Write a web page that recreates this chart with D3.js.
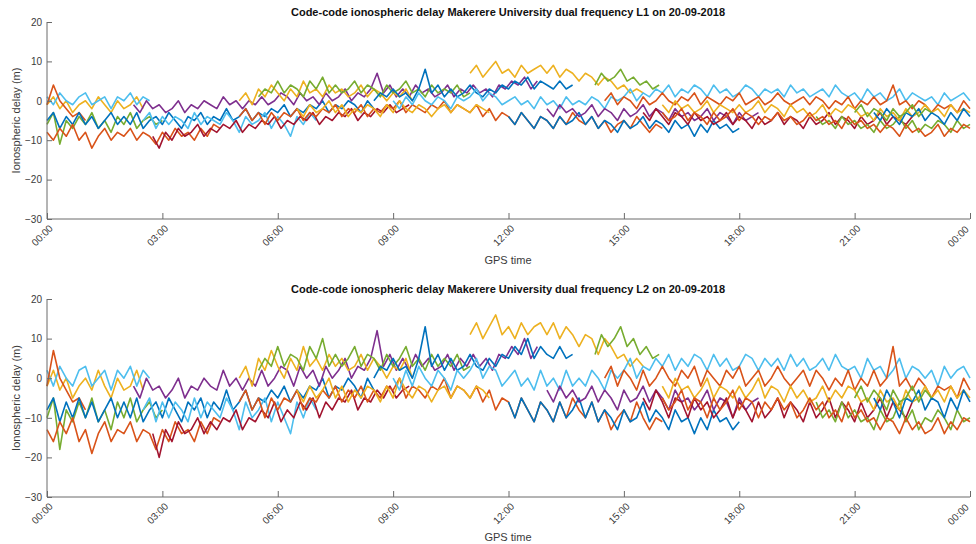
<!DOCTYPE html>
<html><head><meta charset="utf-8">
<script src="https://cdn.jsdelivr.net/npm/d3@7/dist/d3.min.js"></script>
<style>body{margin:0;background:#fff}svg{display:block}text{font-family:"Liberation Sans",Arial,Helvetica,sans-serif}</style>
</head><body><svg id="c" width="976" height="544"></svg>
<script>
// ---- data (hours, metres), 10-minute samples ----
const stepHours = 1/6;
const palette = ["#0072BD","#D95319","#EDB120","#7E2F8E","#77AC30","#4DBEEE","#A2142F"];
const xTickLabels = ["00:00","03:00","06:00","09:00","12:00","15:00","18:00","21:00","00:00"];
const yTicks = [-30,-20,-10,0,10,20];
const titles = ["Code-code ionospheric delay Makerere University dual frequency L1 on 20-09-2018",
                "Code-code ionospheric delay Makerere University dual frequency L2 on 20-09-2018"];
// start hour and colour index of each satellite track
const trackStart = [0,0,0,0,0,2.5,0,2.75,2.25,5,5.5,5,6.5,8.5,12,11,9,14.25,14.5,13,15.5,20,16,21.5,16,21];
const trackColor = [2,5,1,4,0,5,1,6,3,2,4,1,2,0,0,2,5,4,1,3,6,4,2,0,1,4];
// L1 ionospheric delay per track
const l1_01 = [-1,1,-2,0,-3,-1,0,-2,1,-1,-3,0,-2,-1,1,-2];
const l1_02 = [1,-1,2,0,-1,1,2,-1,0,1,-2,1,0,2,-1,1,0];
const l1_03 = [-1,4,0,-2,-4,-3,-5];
const l1_04 = [-6,-3,-11,-5,-7,-4,-6,-3,-7,-5,-8,-4,-6,-3,-7,-5,-4,-6,-5];
const l1_05 = [-5,-3,-7,-4,-6,-3,-6,-4,-7,-5,-3,-6,-4,-6,-3,-7,-5,-4,-6,-3,-5,-7,-4,-5,-3,-6,-4,-5,-2,-5,-4,-2,-5,-3,-4,-2,-3,-1,-4,-2,-3,-1,-2,0,-3,-1,-2,0,-1,-3,0,-2];
const l1_06 = [-5,-3,-7,-4,-6,-4,-5,-7,-3,-6,-4,-5,-6,-3,-5,-8,-4,-6,-5,-3,-7,-4,-6,-9,-4,-6,-3,-5];
const l1_07 = [-8,-10,-7,-9,-6,-10,-8,-12,-9,-7,-10,-8,-9,-7,-10,-8,-9,-11,-8,-10,-7,-9,-8,-10,-7,-9,-6,-7];
const l1_08 = [-9,-12,-8,-10,-7,-9,-8,-6,-9,-7,-8,-6,-7,-5,-8,-6,-7,-5,-6,-4,-7,-5,-6,-4,-5,-3,-6,-4,-5,-3,-4,-2,-5,-3,-4,-2,-3,-1,-3,-2,-1];
const l1_09 = [-1,-3,0,-2,-1,-3,-2,0,-3,-1,-2,0,-1,-2,1,-1,0,-2,0,-1,1,-1,0,2,1,-1,2,0,1,-1,2,0,1,3,0,2,1,3,7,2,4,1,3,1,4,2,3,1,2,4,1,3,2,4,2,3,1,4,3,5,4,6,3,5];
const l1_10 = [0,2,-1,3,1,4,2,0,3,1,5,2,3,1,4,2,3,1,2,4,1,3,2,0,2,1,3,0];
const l1_11 = [1,3,2,5,2,4,3,1,5,3,6,2,4,2,3,5,2,4,3,1,4,2,3,5,2,3,1,4,2,3,2,4,1,2];
const l1_12 = [-4,-2,-5,-3,-6,-3,-5,-3,-4,-2,-5,-3,-4,-2,-3,-1,-4,-2,-3,-1,-4,-2,-3,-1,-2,0,-3,-1,-2,-3,-1,-2,0,-3,-1,-2,-3,-1,-4,-2,-5,-3,-4,-6,-3,-5,-7,-4,-5,-7,-4,-6,-3,-5,-6,-4,-7,-5,-8,-6,-5,-7,-4,-6,-8,-6,-7];
const l1_13 = [-2,-4,-1,-3,-2,0,-3,-1,-4,-2,-3,-1,-2,-4,-1,-3,0,-2,-3,-1,-2,-4,-2,-1,-3,-1,-2,-3,-1,-2,-3];
const l1_14 = [0,2,1,3,1,2,0,3,8,2,4,1,3,1,2,4,2,1,3,2,4,3,5,4,6,3,5,4,3,5,3,4];
const l1_15 = [-4,-6,-3,-5,-7,-4,-5,-7,-4,-6,-5,-3,-6,-4,-7,-5,-6,-8,-5,-7,-6,-4,-7,-5,-6,-8,-5,-7,-6,-9,-6,-8,-5,-7,-6,-8,-7];
const l1_16 = [7,9,6,8,10,7,8,6,9,7,8,9,7,9,6,8,7,5,7,6,4,6,5,3,4,2,3,2];
const l1_17 = [0,-2,1,-1,2,0,-1,1,0,-2,1,0,1,3,0,2,1,-1,0,1,-1,0,-2,1,-1,0,-2,1,-1,0,-1,1,0,-2,1,0,1,3,0,2,1,3,2,4,1,3,2,4,3,1,4,2,3,1,2,4,3,1,3,2,3,1,4,2,3,1,2,3,1,4,2,1,2,0,3,1,2,0,1,3,0,2,1,0,1,-1,2,0,1,2,0];
const l1_18 = [4,7,5,6,8,5,6,4,5,3,4];
const l1_19 = [0,2,-1,1,0,-2,1,-1,0,2,0,-1,1,0,2,-1,1,0,-1,1,0,2,-1,0,1,-1,0,2,0,-1,0,1,-1,1,0,-2,0,-1,1,-2,0,-1,1,-1,0,4,-1,0,-2,0,-1,-3,-1,-2,-1,-3,0,-2];
const l1_20 = [-2,-4,-1,-3,-2,-4,-3,-1,-4,-2,-3,-5,-2,-4,-3,-1,-4,-2,-3,-5,-2,-4,-3,-5,-4,-2,-5,-3,-4,-6,-3,-5,-4,-3];
const l1_21 = [-3,-5,-2,-4,-6,-3,-4,-6,-3,-5,-4,-6,-5,-3,-6,-4,-5,-7,-4,-6,-5,-3,-6,-4,-5,-7,-4,-6,-5,-3,-6,-4,-5,-7,-4,-6,-5,-3,-6,-4,-5,-6,-4];
const l1_22 = [-4,-6,-5,-7,-4,-6,-5,-7,-6,-8,-5,-7,-6,-4,-7,-5,-8,-6,-7,-5,-6,-8,-5,-7,-6];
const l1_23 = [-1,-3,0,-2,-1,-3,-2,0,-3,-1,-2,-3,-1,-3,-2,0,-3,-1,-2,-4,-1,-3,-2,-4,-3,-1,-4,-2,-3,-1,-2,-4,-3,-5,-2,-4,-3,-5,-2,-4,-3,-1,-3,-2,-4,-1,-3,-2,-3];
const l1_24 = [-3,-5,-2,-4,-6,-3,-4,-2,-5,-3,-4,-6,-3,-5,-2,-4];
const l1_25 = [-3,-5,-4,-2,-5,-3,-4,-6,-3,-5,-4,-2,-5,-3,-4,-6,-4,-5,-3,-5,-4,-6,-5,-3,-5,-4,-6,-5,-7,-4,-6,-5,-7,-6,-8,-6,-7,-9,-6,-8,-7,-9,-8,-6,-9,-7,-8,-6,-7];
const l1_26 = [-3,-1,-4,-2,-3,-5,-2,-4,-3,-1,-4,-2,-3];
// L2 ionospheric delay per track
const l2_01 = [-2,2,-3,0,-5,-2,0,-3,2,-2,-5,0,-3,-2,2,-3];
const l2_02 = [2,-2,3,0,-2,2,3,-2,0,2,-3,2,0,3,-2,2,0];
const l2_03 = [-2,7,0,-3,-6,-5,-8];
const l2_04 = [-10,-5,-18,-8,-11,-6,-10,-5,-11,-8,-13,-6,-10,-5,-11,-8,-6,-10,-8];
const l2_05 = [-8,-5,-11,-6,-10,-5,-10,-6,-11,-8,-5,-10,-6,-10,-5,-11,-8,-6,-10,-5,-8,-11,-6,-8,-5,-10,-6,-8,-3,-8,-6,-3,-8,-5,-6,-3,-5,-2,-6,-3,-5,-2,-3,0,-5,-2,-3,0,-2,-5,0,-3];
const l2_06 = [-8,-5,-11,-6,-10,-6,-8,-11,-5,-10,-6,-8,-10,-5,-8,-13,-6,-10,-8,-5,-11,-6,-10,-14,-6,-10,-5,-8];
const l2_07 = [-13,-16,-11,-14,-10,-16,-13,-19,-14,-11,-16,-13,-14,-11,-16,-13,-14,-18,-13,-16,-11,-14,-13,-16,-11,-14,-10,-11];
const l2_08 = [-14,-20,-13,-16,-11,-14,-13,-10,-14,-11,-13,-10,-11,-8,-13,-10,-11,-8,-10,-6,-11,-8,-10,-6,-8,-5,-10,-6,-8,-5,-6,-3,-8,-5,-6,-3,-5,-2,-5,-3,-2];
const l2_09 = [-2,-5,0,-3,-2,-5,-3,0,-5,-2,-3,0,-2,-3,2,-2,0,-3,0,-2,2,-2,0,3,2,-2,3,0,2,-2,3,0,2,5,0,3,2,5,12,3,6,2,5,2,6,3,5,2,3,6,2,5,3,6,3,5,2,6,5,8,6,10,5,8];
const l2_10 = [0,3,-2,5,2,7,3,0,5,2,8,3,5,2,6,3,5,2,3,6,2,5,3,0,3,2,5,0];
const l2_11 = [2,5,3,8,3,6,5,2,8,5,10,3,6,3,5,8,3,6,5,2,6,3,5,8,3,5,2,6,3,5,3,6,2,3];
const l2_12 = [-6,-3,-8,-5,-10,-5,-8,-5,-6,-3,-8,-5,-6,-3,-5,-2,-6,-3,-5,-2,-6,-3,-5,-2,-3,0,-5,-2,-3,-5,-2,-3,0,-5,-2,-3,-5,-2,-6,-3,-8,-5,-6,-10,-5,-8,-11,-6,-8,-11,-6,-10,-5,-8,-10,-6,-11,-8,-13,-10,-8,-11,-6,-10,-13,-10,-11];
const l2_13 = [-3,-6,-2,-5,-3,0,-5,-2,-6,-3,-5,-2,-3,-6,-2,-5,0,-3,-5,-2,-3,-6,-3,-2,-5,-2,-3,-5,-2,-3,-5];
const l2_14 = [0,3,2,5,2,3,0,5,13,3,6,2,5,2,3,6,3,2,5,3,6,5,8,6,10,5,8,6,5,8,5,6];
const l2_15 = [-6,-10,-5,-8,-11,-6,-8,-11,-6,-10,-8,-5,-10,-6,-11,-8,-10,-13,-8,-11,-10,-6,-11,-8,-10,-13,-8,-11,-10,-14,-10,-13,-8,-11,-10,-13,-11];
const l2_16 = [11,14,10,13,16,11,13,10,14,11,13,14,11,14,10,13,11,8,11,10,6,10,8,5,6,3,5,3];
const l2_17 = [0,-3,2,-2,3,0,-2,2,0,-3,2,0,2,5,0,3,2,-2,0,2,-2,0,-3,2,-2,0,-3,2,-2,0,-2,2,0,-3,2,0,2,5,0,3,2,5,3,6,2,5,3,6,5,2,6,3,5,2,3,6,5,2,5,3,5,2,6,3,5,2,3,5,2,6,3,2,3,0,5,2,3,0,2,5,0,3,2,0,2,-2,3,0,2,3,0];
const l2_18 = [6,11,8,10,13,8,10,6,8,5,6];
const l2_19 = [0,3,-2,2,0,-3,2,-2,0,3,0,-2,2,0,3,-2,2,0,-2,2,0,3,-2,0,2,-2,0,3,0,-2,0,2,-2,2,0,-3,0,-2,2,-3,0,-2,2,-2,0,8,-2,0,-3,0,-2,-5,-2,-3,-2,-5,0,-3];
const l2_20 = [-3,-6,-2,-5,-3,-6,-5,-2,-6,-3,-5,-8,-3,-6,-5,-2,-6,-3,-5,-8,-3,-6,-5,-8,-6,-3,-8,-5,-6,-10,-5,-8,-6,-5];
const l2_21 = [-5,-8,-3,-6,-10,-5,-6,-10,-5,-8,-6,-10,-8,-5,-10,-6,-8,-11,-6,-10,-8,-5,-10,-6,-8,-11,-6,-10,-8,-5,-10,-6,-8,-11,-6,-10,-8,-5,-10,-6,-8,-10,-6];
const l2_22 = [-6,-10,-8,-11,-6,-10,-8,-11,-10,-13,-8,-11,-10,-6,-11,-8,-13,-10,-11,-8,-10,-13,-8,-11,-10];
const l2_23 = [-2,-5,0,-3,-2,-5,-3,0,-5,-2,-3,-5,-2,-5,-3,0,-5,-2,-3,-6,-2,-5,-3,-6,-5,-2,-6,-3,-5,-2,-3,-6,-5,-8,-3,-6,-5,-8,-3,-6,-5,-2,-5,-3,-6,-2,-5,-3,-5];
const l2_24 = [-5,-8,-3,-6,-10,-5,-6,-3,-8,-5,-6,-10,-5,-8,-3,-6];
const l2_25 = [-5,-8,-6,-3,-8,-5,-6,-10,-5,-8,-6,-3,-8,-5,-6,-10,-6,-8,-5,-8,-6,-10,-8,-5,-8,-6,-10,-8,-11,-6,-10,-8,-11,-10,-13,-10,-11,-14,-10,-13,-11,-14,-13,-10,-14,-11,-13,-10,-11];
const l2_26 = [-5,-2,-6,-3,-5,-8,-3,-6,-5,-2,-6,-3,-5];

const l1Tracks = [l1_01,l1_02,l1_03,l1_04,l1_05,l1_06,l1_07,l1_08,l1_09,l1_10,l1_11,l1_12,l1_13,l1_14,l1_15,l1_16,l1_17,l1_18,l1_19,l1_20,l1_21,l1_22,l1_23,l1_24,l1_25,l1_26];
const l2Tracks = [l2_01,l2_02,l2_03,l2_04,l2_05,l2_06,l2_07,l2_08,l2_09,l2_10,l2_11,l2_12,l2_13,l2_14,l2_15,l2_16,l2_17,l2_18,l2_19,l2_20,l2_21,l2_22,l2_23,l2_24,l2_25,l2_26];

// ---- drawing ----
const svg = d3.select("#c");
const axisColor = "#6a6a6a", textColor = "#3a3a3a";
const panels = [
  {tracks:l1Tracks, top:22, bottom:219, title:titles[0], titleY:16, xlabY:264},
  {tracks:l2Tracks, top:299, bottom:497, title:titles[1], titleY:293, xlabY:541}
];
const left = 47, right = 970;
const x = d3.scaleLinear().domain([0,24]).range([left,right]);

panels.forEach(p => {
  const y = d3.scaleLinear().domain([-30,20]).range([p.bottom,p.top]);
  const g = svg.append("g");
  const line = d3.line().x(d => x(d[0])).y(d => y(d[1]));
  p.tracks.forEach((vals,i) => {
    const pts = vals.map((v,k) => [trackStart[i] + k*stepHours, v]);
    g.append("path").attr("d", line(pts)).attr("fill","none")
      .attr("stroke", palette[trackColor[i]]).attr("stroke-width",1.6).attr("stroke-linejoin","round");
  });
  const ya = d3.axisRight(y).tickValues(yTicks).tickSize(5).tickFormat(d3.format("d"));
  const yg = svg.append("g").attr("transform",`translate(${left},0)`).call(ya);
  yg.select(".domain").attr("stroke",axisColor).attr("d",`M0,${p.top}V${p.bottom}`);
  yg.selectAll(".tick line").attr("stroke",axisColor);
  yg.selectAll(".tick text").attr("x",-5).attr("text-anchor","end").attr("fill",textColor).attr("font-size",10);
  const xa = d3.axisTop(x).tickValues(d3.range(0,25,3)).tickSize(6).tickFormat((d,i)=>xTickLabels[i]);
  const xg = svg.append("g").attr("transform",`translate(0,${p.bottom})`).call(xa);
  xg.select(".domain").attr("stroke",axisColor).attr("d",`M${left},0H${right}`);
  xg.selectAll(".tick line").attr("stroke",axisColor);
  xg.selectAll(".tick text").attr("fill",textColor).attr("font-size",10)
    .attr("text-anchor","end").attr("x",null).attr("y",null).attr("dy",null)
    .attr("transform",(d,i,n)=> i===n.length-1 ? "translate(-1,11) rotate(-45)" : "translate(6,10) rotate(-45)");
  svg.append("text").attr("x",508).attr("y",p.titleY).attr("text-anchor","middle")
    .attr("font-weight","bold").attr("font-size",11).attr("fill","#111").text(p.title);
  svg.append("text").attr("x",508).attr("y",p.xlabY).attr("text-anchor","middle")
    .attr("font-size",11).attr("fill",textColor).text("GPS time");
  svg.append("text").attr("transform",`translate(20,${(p.top+p.bottom)/2}) rotate(-90)`)
    .attr("text-anchor","middle").attr("font-size",11).attr("fill",textColor).text("Ionospheric delay (m)");
});
</script></body></html>
